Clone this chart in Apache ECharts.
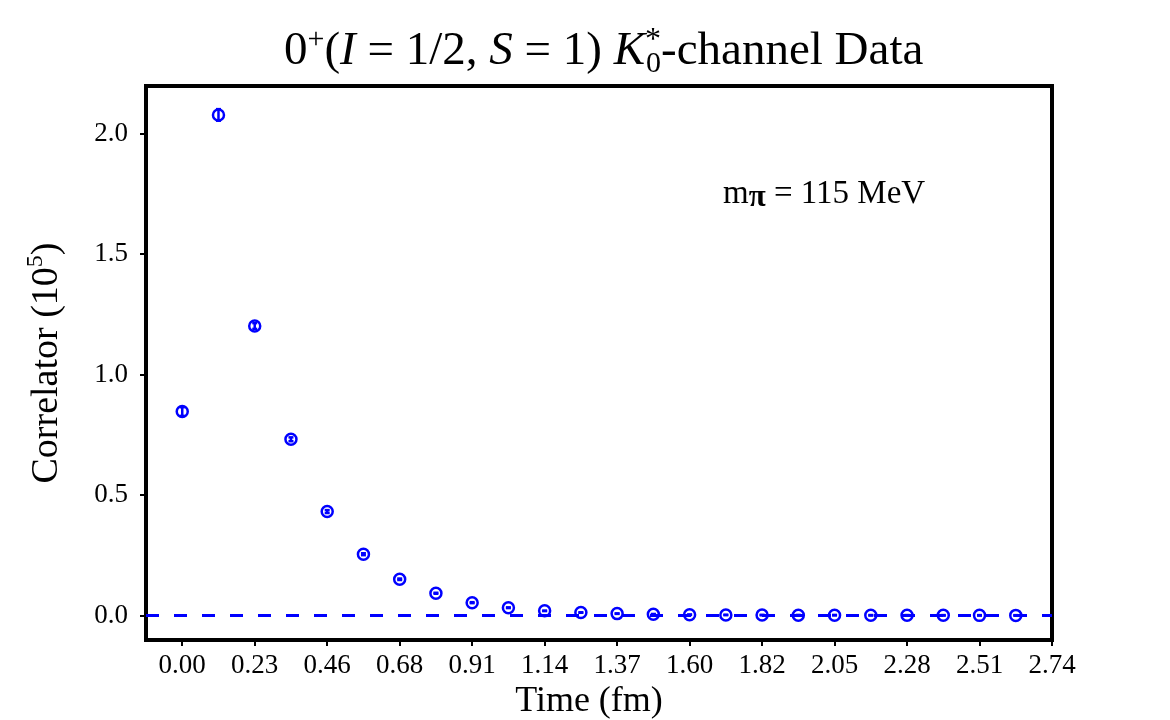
<!DOCTYPE html>
<html>
<head>
<meta charset="utf-8">
<script src="https://cdn.jsdelivr.net/npm/echarts@6/dist/echarts.min.js"></script>
<style>
  html, body { margin: 0; padding: 0; background: #fff; }
  #chart { width: 1170px; height: 720px; }
</style>
</head>
<body>
<div id="chart"></div>
<script>
// time slices in fm (a = 0.114 fm)
const times = [0.000, 0.114, 0.228, 0.342, 0.456, 0.570, 0.684, 0.798, 0.912, 1.026, 1.140, 1.254,
  1.368, 1.482, 1.596, 1.710, 1.824, 1.938, 2.052, 2.166, 2.280, 2.394, 2.508, 2.622];
// correlator values in units of 10^5
const correlator = [0.846, 2.077, 1.201, 0.731, 0.431, 0.254, 0.150, 0.092, 0.053, 0.032, 0.019, 0.012,
  0.0075, 0.005, 0.003, 0.002, 0.0015, 0.001, 0.001, 0.0005, 0.0005, 0.0003, 0.0002, 0.0001];
const errors = [0.018, 0.024, 0.012, 0.008, 0.006, 0.004, 0.003, 0.002, 0.002, 0.0015, 0.001, 0.001,
  0.001, 0.001, 0.001, 0.001, 0.001, 0.001, 0.001, 0.001, 0.001, 0.001, 0.001, 0.001];
const xTicks = [0, 0.228, 0.456, 0.684, 0.912, 1.140, 1.368, 1.596, 1.824, 2.052, 2.280, 2.508, 2.736];
const xTickLabels = ['0.00', '0.23', '0.46', '0.68', '0.91', '1.14', '1.37', '1.60', '1.82', '2.05', '2.28', '2.51', '2.74'];
const yTicks = [0, 0.5, 1.0, 1.5, 2.0];
const yTickLabels = ['0.0', '0.5', '1.0', '1.5', '2.0'];

const FONT = 'Liberation Serif';
const BLUE = '#0000ff';

const chart = echarts.init(document.getElementById('chart'), null, { renderer: 'canvas' });

function renderItem(params, api) {
  const x = api.value(0), y = api.value(1), e = api.value(2);
  const c = api.coord([x, y]);
  const lo = api.coord([x, y - e]);
  const hi = api.coord([x, y + e]);
  const cap = 2.5;
  const st = { stroke: BLUE, lineWidth: 2.5, fill: null };
  return {
    type: 'group',
    children: [
      { type: 'circle', shape: { cx: c[0], cy: c[1], r: 5.5 }, style: st },
      { type: 'line', shape: { x1: c[0], y1: lo[1], x2: c[0], y2: hi[1] }, style: st },
      { type: 'line', shape: { x1: c[0] - cap, y1: lo[1], x2: c[0] + cap, y2: lo[1] }, style: st },
      { type: 'line', shape: { x1: c[0] - cap, y1: hi[1], x2: c[0] + cap, y2: hi[1] }, style: st }
    ]
  };
}

const option = {
  animation: false,
  backgroundColor: '#fff',
  title: {
    text: '0{sup|+}({i|I} = 1/2, {i|S} = 1) {i|K}{star|*}{sub|0}-channel Data',
    left: 279,
    top: 20,
    textStyle: {
      fontFamily: FONT, fontSize: 47, fontWeight: 'normal', color: '#000', lineHeight: 54,
      rich: {
        sup: { fontFamily: FONT, fontSize: 30, lineHeight: 24, verticalAlign: 'top', color: '#000' },
        sub: { fontFamily: FONT, fontSize: 30, lineHeight: 24, verticalAlign: 'bottom', color: '#000' },
        star: { fontFamily: FONT, fontSize: 32, lineHeight: 24, verticalAlign: 'top', width: 1, color: '#000' },
        i: { fontFamily: FONT, fontSize: 47, fontStyle: 'italic', lineHeight: 54, color: '#000' }
      }
    }
  },
  grid: {
    show: true, left: 146, right: 118, top: 86, bottom: 80,
    outerBoundsMode: 'none',
    borderColor: '#000', borderWidth: 4, backgroundColor: 'transparent'
  },
  xAxis: {
    type: 'value',
    min: -0.114, max: 2.736,
    name: 'Time (fm)',
    nameLocation: 'middle',
    nameGap: 44,
    nameTextStyle: { fontFamily: FONT, fontSize: 36, color: '#000', padding: [0, 20, 0, 0] },
    axisLine: { show: false, onZero: false },
    splitLine: { show: false },
    axisTick: { show: true, length: 6, customValues: xTicks, lineStyle: { color: '#000', width: 2 } },
    axisLabel: {
      customValues: xTicks,
      margin: 12,
      fontFamily: FONT, fontSize: 27, color: '#000',
      formatter: v => {
        const k = xTicks.findIndex(t => Math.abs(t - v) < 1e-6);
        return k >= 0 ? xTickLabels[k] : '';
      }
    }
  },
  yAxis: {
    type: 'value',
    min: -0.102, max: 2.197,
    name: 'Correlator (10{sup|5})',
    nameLocation: 'middle',
    nameGap: 76,
    nameRotate: 90,
    nameTextStyle: {
      fontFamily: FONT, fontSize: 38, color: '#000', lineHeight: 46,
      rich: { sup: { fontFamily: FONT, fontSize: 24, lineHeight: 22, verticalAlign: 'top', color: '#000' } }
    },
    axisLine: { show: false, onZero: false },
    splitLine: { show: false },
    axisTick: { show: true, length: 6, customValues: yTicks, lineStyle: { color: '#000', width: 2 } },
    axisLabel: {
      customValues: yTicks,
      margin: 18,
      fontFamily: FONT, fontSize: 27, color: '#000',
      formatter: v => {
        const k = yTicks.findIndex(t => Math.abs(t - v) < 1e-6);
        return k >= 0 ? yTickLabels[k] : '';
      }
    }
  },
  graphic: [{
    type: 'text',
    left: 723, top: 175,
    style: {
      text: 'm{sub|π} = 115 MeV',
      fontFamily: FONT, fontSize: 33, fill: '#000', lineHeight: 38,
      rich: { sub: { fontFamily: FONT, fontSize: 31, fontWeight: 'bold', lineHeight: 30, verticalAlign: 'bottom' } }
    }
  }],
  series: [{
    type: 'custom',
    renderItem: renderItem,
    encode: { x: 0, y: 1 },
    data: times.map((t, i) => [t, correlator[i], errors[i]]),
    clip: false,
    z: 3,
    markLine: {
      silent: true,
      symbol: ['none', 'none'],
      label: { show: false },
      lineStyle: { color: BLUE, width: 3, type: [13, 15] },
      data: [{ yAxis: 0 }]
    }
  }]
};

chart.setOption(option);
</script>
</body>
</html>
